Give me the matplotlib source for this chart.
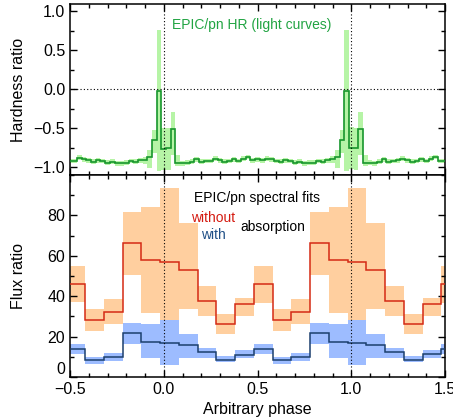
import matplotlib
matplotlib.use('Agg')
import matplotlib.pyplot as plt
import numpy as np
from matplotlib.ticker import MultipleLocator

plt.rcParams['font.family'] = ['Liberation Sans', 'DejaVu Sans']

# ---------------- Upper panel: EPIC/pn hardness ratio (light curves) ----------------
hr_phase = [-0.500, -0.475, -0.450, -0.425, -0.400, -0.375, -0.350, -0.325, -0.300, -0.275,
            -0.250, -0.225, -0.200, -0.175, -0.150, -0.125, -0.100, -0.075, -0.050, -0.025,
            0.000, 0.025, 0.050, 0.075, 0.100, 0.125, 0.150, 0.175, 0.200, 0.225,
            0.250, 0.275, 0.300, 0.325, 0.350, 0.375, 0.400, 0.425, 0.450, 0.475,
            0.500, 0.525, 0.550, 0.575, 0.600, 0.625, 0.650, 0.675, 0.700, 0.725,
            0.750, 0.775, 0.800, 0.825, 0.850, 0.875, 0.900, 0.925, 0.950, 0.975,
            1.000, 1.025, 1.050, 1.075, 1.100, 1.125, 1.150, 1.175, 1.200, 1.225,
            1.250, 1.275, 1.300, 1.325, 1.350, 1.375, 1.400, 1.425, 1.450, 1.475,
            1.500]
hr = [-0.92, -0.92, -0.88, -0.90, -0.91, -0.93, -0.91, -0.92, -0.94, -0.93,
      -0.95, -0.95, -0.94, -0.92, -0.93, -0.91, -0.91, -0.87, -0.65, -0.02,
      -0.77, -0.76, -0.51, -0.95, -0.95, -0.94, -0.93, -0.90, -0.93, -0.92,
      -0.92, -0.89, -0.91, -0.93, -0.92, -0.90, -0.92, -0.89, -0.87, -0.91,
      -0.90, -0.91, -0.89, -0.90, -0.92, -0.93, -0.91, -0.92, -0.94, -0.93,
      -0.95, -0.94, -0.94, -0.92, -0.93, -0.91, -0.90, -0.87, -0.65, -0.03,
      -0.76, -0.76, -0.51, -0.95, -0.94, -0.95, -0.93, -0.90, -0.93, -0.92,
      -0.91, -0.89, -0.91, -0.93, -0.92, -0.90, -0.92, -0.89, -0.87, -0.92,
      -0.92]
hr_err_up = [0.03, 0.03, 0.03, 0.03, 0.03, 0.03, 0.03, 0.03, 0.03, 0.03,
             0.03, 0.03, 0.03, 0.03, 0.03, 0.03, 0.04, 0.09, 0.12, 0.78,
             0.27, 0.26, 0.22, 0.10, 0.03, 0.03, 0.03, 0.03, 0.03, 0.03,
             0.03, 0.03, 0.03, 0.03, 0.03, 0.03, 0.03, 0.03, 0.03, 0.03,
             0.03, 0.03, 0.03, 0.03, 0.03, 0.03, 0.03, 0.03, 0.03, 0.03,
             0.03, 0.03, 0.03, 0.03, 0.03, 0.03, 0.04, 0.09, 0.12, 0.79,
             0.27, 0.26, 0.22, 0.10, 0.03, 0.03, 0.03, 0.03, 0.03, 0.03,
             0.03, 0.03, 0.03, 0.03, 0.03, 0.03, 0.03, 0.03, 0.03, 0.03,
             0.03]
hr_err_dn = [0.03, 0.03, 0.03, 0.03, 0.03, 0.03, 0.03, 0.03, 0.03, 0.03,
             0.03, 0.03, 0.03, 0.03, 0.03, 0.03, 0.05, 0.14, 0.17, 1.03,
             0.26, 0.27, 0.34, 0.03, 0.03, 0.03, 0.03, 0.03, 0.03, 0.03,
             0.03, 0.03, 0.03, 0.03, 0.03, 0.03, 0.03, 0.03, 0.03, 0.03,
             0.03, 0.03, 0.03, 0.03, 0.03, 0.03, 0.03, 0.03, 0.03, 0.03,
             0.03, 0.03, 0.03, 0.03, 0.03, 0.03, 0.05, 0.14, 0.17, 1.02,
             0.26, 0.27, 0.34, 0.03, 0.03, 0.03, 0.03, 0.03, 0.03, 0.03,
             0.03, 0.03, 0.03, 0.03, 0.03, 0.03, 0.03, 0.03, 0.03, 0.03,
             0.03]
hr_bin_width = 0.025

# ---------------- Lower panel: EPIC/pn spectral fits (flux ratio) ----------------
spec_phase = [-0.47, -0.37, -0.27, -0.17, -0.07, 0.03, 0.13, 0.23, 0.33, 0.43,
              0.53, 0.63, 0.73, 0.83, 0.93, 1.03, 1.13, 1.23, 1.33, 1.43, 1.53]
flux_without = [46.0, 28.0, 32.4, 66.2, 58.0, 57.0, 52.8, 37.5, 26.2, 35.9,
                45.8, 28.0, 32.4, 66.2, 58.0, 57.0, 52.8, 37.5, 26.2, 35.9, 45.8]
flux_without_hi = [54.8, 33.7, 38.7, 81.5, 84.0, 93.5, 76.4, 44.9, 31.1, 39.0,
                   54.8, 33.7, 38.7, 81.5, 84.0, 93.5, 76.4, 44.9, 31.1, 39.0, 54.8]
flux_without_lo = [36.9, 22.9, 26.3, 50.5, 31.9, 28.3, 33.6, 30.0, 21.4, 30.1,
                   36.7, 22.9, 26.3, 50.5, 31.9, 28.3, 33.6, 30.0, 21.4, 30.1, 36.7]
flux_with = [14.0, 8.4, 9.7, 21.9, 17.4, 16.9, 15.8, 12.2, 8.4, 11.0,
             13.8, 8.4, 9.7, 21.9, 17.4, 17.0, 16.0, 12.2, 8.4, 11.2, 13.8]
flux_with_hi = [16.3, 10.0, 11.9, 26.8, 26.0, 28.4, 21.2, 14.5, 10.4, 13.3,
                16.3, 10.0, 11.9, 26.8, 26.0, 28.4, 21.2, 14.5, 10.4, 13.3, 16.3]
flux_with_lo = [11.2, 6.4, 8.0, 16.4, 9.5, 5.9, 9.4, 9.5, 7.3, 9.2,
                11.5, 6.4, 8.0, 16.4, 9.5, 5.9, 9.4, 9.5, 7.3, 9.2, 11.5]
spec_bin_width = 0.1

xticks = [-0.5, 0.0, 0.5, 1.0, 1.5]
hr_yticks = [-1.0, -0.5, 0.0, 0.5, 1.0]
flux_yticks = [0, 20, 40, 60, 80]


def edges_from_centers(c, w):
    c = np.asarray(c, dtype=float)
    return np.append(c - w / 2, c[-1] + w / 2)


GREEN_LINE = '#17962c'
GREEN_BAND = '#b6f4a6'
GREEN_TEXT = '#22a443'
ORANGE_BAND = '#ffcf9f'
RED_LINE = '#d42a14'
BLUE_BAND = '#9dbcff'
BLUE_LINE = '#1b3f6e'

fig = plt.figure(figsize=(4.53, 4.2), dpi=100)
L, W = 70 / 453, 375 / 453
ax1 = fig.add_axes([L, 1 - 175 / 420, W, 171 / 420])
ax2 = fig.add_axes([L, 1 - 377 / 420, W, 202 / 420], sharex=ax1)

# upper panel
hr = np.asarray(hr)
e1 = edges_from_centers(hr_phase, hr_bin_width)
ax1.stairs(hr + np.asarray(hr_err_up), e1, baseline=hr - np.asarray(hr_err_dn),
           fill=True, color=GREEN_BAND, lw=0, zorder=1)
ax1.stairs(hr, e1, baseline=None, color=GREEN_LINE, lw=1.2, zorder=3)
ax1.axhline(0.0, color='k', ls=(0, (1, 2)), lw=0.8, zorder=4)
for xv in (0.0, 1.0):
    ax1.axvline(xv, color='k', ls=(0, (1, 2)), lw=0.8, zorder=4)
ax1.set_ylim(-1.1, 1.09)
ax1.set_yticks(hr_yticks)
ax1.yaxis.set_minor_locator(MultipleLocator(0.25))
ax1.set_ylabel('Hardness ratio', fontsize=11.5)
ax1.text(0.484, 0.877, 'EPIC/pn HR (light curves)', transform=ax1.transAxes,
         ha='center', va='center', fontsize=10, color=GREEN_TEXT)
plt.setp(ax1.get_xticklabels(), visible=False)

# lower panel
e2 = edges_from_centers(spec_phase, spec_bin_width)
ax2.stairs(flux_without_hi, e2, baseline=flux_without_lo, fill=True,
           color=ORANGE_BAND, lw=0, zorder=1)
ax2.stairs(flux_with_hi, e2, baseline=flux_with_lo, fill=True,
           color=BLUE_BAND, lw=0, zorder=2)
ax2.stairs(flux_without, e2, baseline=None, color=RED_LINE, lw=1.1, zorder=3)
ax2.stairs(flux_with, e2, baseline=None, color=BLUE_LINE, lw=1.1, zorder=3)
for xv in (0.0, 1.0):
    ax2.axvline(xv, color='k', ls=(0, (1, 2)), lw=0.8, zorder=4)
ax2.set_ylim(0, 100)
ax2.set_yticks(flux_yticks)
ax2.yaxis.set_minor_locator(MultipleLocator(10))
ax2.set_ylabel('Flux ratio', fontsize=11.5)
ax2.set_xlabel('Arbitrary phase', fontsize=11.5, labelpad=4)
ax2.text(0.499, 0.888, 'EPIC/pn spectral fits', transform=ax2.transAxes,
         ha='center', va='center', fontsize=10, color='black')
ax2.text(0.324, 0.786, 'without', transform=ax2.transAxes,
         ha='left', va='center', fontsize=10, color='#d41a10')
ax2.text(0.350, 0.703, 'with', transform=ax2.transAxes,
         ha='left', va='center', fontsize=10, color='#1f4f86')
ax2.text(0.454, 0.744, 'absorption', transform=ax2.transAxes,
         ha='left', va='center', fontsize=10, color='black')

ax2.set_xlim(-0.5, 1.5)
ax2.set_xticks(xticks)
ax2.xaxis.set_minor_locator(MultipleLocator(0.1))

for ax in (ax1, ax2):
    ax.tick_params(which='both', direction='in', top=True, right=True,
                   labelsize=11.5, width=1.0)
    ax.tick_params(which='major', length=5)
    ax.tick_params(which='minor', length=3)
    for s in ax.spines.values():
        s.set_linewidth(1.1)

# raise the "0" label of the flux axis slightly, as in the original
ax2.yaxis.get_major_ticks()[0].label1.set_verticalalignment('bottom')

ax1.yaxis.set_label_coords(-0.118, 0.5)
ax2.yaxis.set_label_coords(-0.118, 0.5)

fig.savefig('out.png', dpi=100)
